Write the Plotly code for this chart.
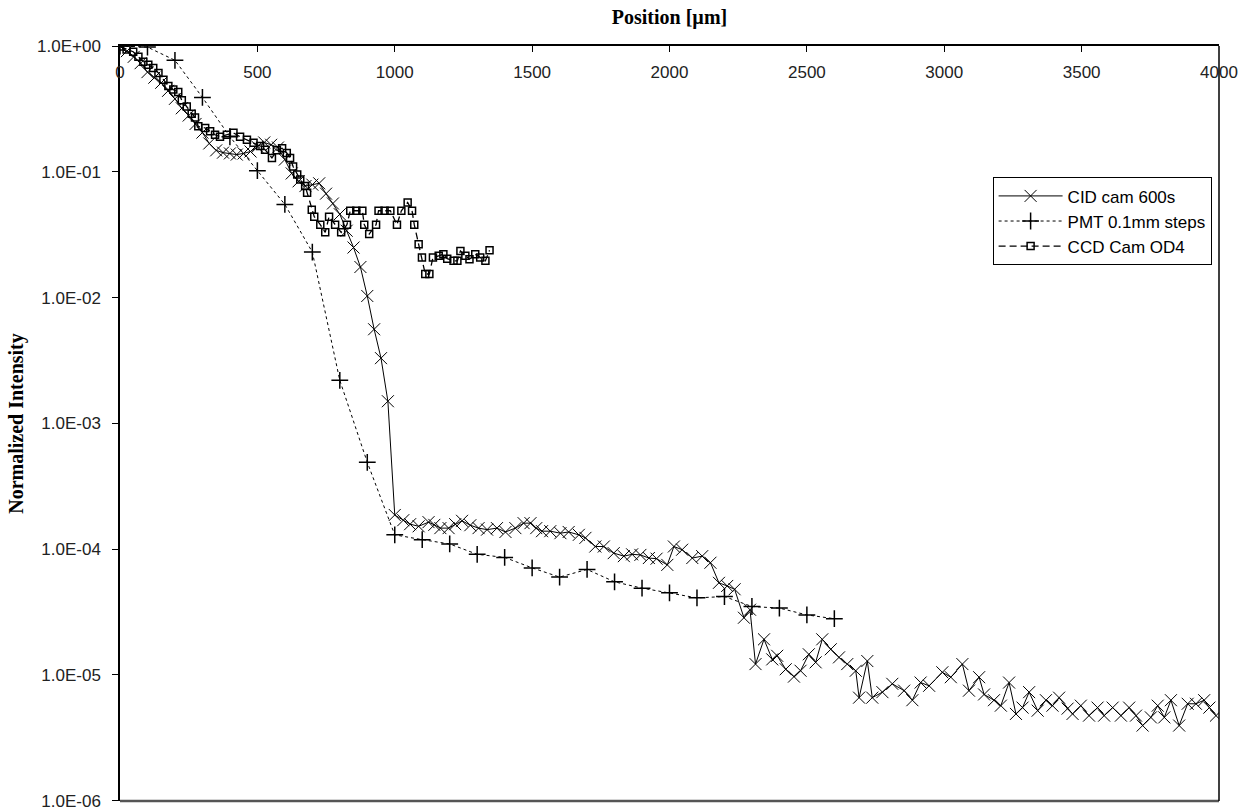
import plotly.graph_objects as go

# ---------------- data ----------------
cid_x = [0, 25, 50, 75, 100, 125, 150, 175, 200, 225, 250, 275, 300, 325, 350, 375, 400,
         425, 450, 475, 500, 525, 550, 575, 600, 625, 650, 675, 700, 725, 750, 775, 800,
         825, 850, 875, 900, 925, 950, 975, 1000,
         1031, 1056, 1087, 1123, 1144, 1166, 1196, 1220, 1245, 1275, 1305, 1336, 1372, 1403,
         1439, 1469, 1494, 1515, 1536, 1566, 1603, 1633, 1670, 1694, 1730, 1761, 1797, 1834,
         1864, 1894, 1925, 1953, 1992, 2016, 2046, 2083, 2119, 2149, 2180, 2210, 2237, 2271,
         2293, 2313, 2344, 2374, 2392, 2423, 2453, 2477, 2507, 2532, 2556, 2587, 2617, 2647,
         2678, 2690, 2720, 2738, 2775, 2811, 2854, 2884, 2914, 2945, 2993, 3024, 3066, 3090,
         3127, 3145, 3181, 3206, 3236, 3261, 3285, 3309, 3340, 3370, 3394, 3418, 3449, 3467,
         3497, 3527, 3558, 3582, 3613, 3643, 3673, 3698, 3722, 3752, 3777, 3801, 3825, 3855,
         3886, 3916, 3946, 3965, 3989]
cid_y = [1.0, 0.91, 0.82, 0.73, 0.62, 0.56, 0.51, 0.44, 0.38, 0.32, 0.28, 0.24, 0.205, 0.168,
         0.148, 0.142, 0.140, 0.137, 0.140, 0.145, 0.158, 0.171, 0.164, 0.156, 0.125, 0.097,
         0.084, 0.077, 0.079, 0.081, 0.067, 0.056, 0.046, 0.034, 0.025, 0.0175, 0.0103, 0.0056,
         0.0033, 0.0015, 1.87e-4,
         1.70e-4, 1.58e-4, 1.52e-4, 1.64e-4, 1.56e-4, 1.47e-4, 1.47e-4, 1.58e-4, 1.68e-4,
         1.55e-4, 1.47e-4, 1.43e-4, 1.47e-4, 1.37e-4, 1.47e-4, 1.61e-4, 1.61e-4, 1.47e-4,
         1.39e-4, 1.39e-4, 1.34e-4, 1.37e-4, 1.30e-4, 1.23e-4, 1.05e-4, 1.05e-4, 9.3e-5,
         8.8e-5, 9.1e-5, 9.0e-5, 8.5e-5, 8.4e-5, 7.5e-5, 1.05e-4, 9.9e-5, 8.5e-5, 8.8e-5,
         7.8e-5, 5.4e-5, 5.1e-5, 4.8e-5, 2.85e-5, 3.3e-5, 1.22e-5, 1.92e-5, 1.33e-5, 1.42e-5,
         1.11e-5, 9.7e-6, 1.08e-5, 1.46e-5, 1.26e-5, 1.92e-5, 1.60e-5, 1.38e-5, 1.22e-5,
         1.08e-5, 6.6e-6, 1.29e-5, 6.6e-6, 7.3e-6, 8.5e-6, 7.5e-6, 6.3e-6, 8.7e-6, 8.2e-6,
         1.05e-5, 9.6e-6, 1.22e-5, 7.5e-6, 9.6e-6, 7.0e-6, 6.3e-6, 5.7e-6, 8.7e-6, 4.9e-6,
         5.5e-6, 7.3e-6, 5.2e-6, 6.3e-6, 5.7e-6, 6.6e-6, 5.4e-6, 4.9e-6, 5.7e-6, 4.75e-6,
         5.5e-6, 4.75e-6, 5.5e-6, 4.75e-6, 5.5e-6, 4.75e-6, 3.96e-6, 4.6e-6, 5.7e-6, 4.6e-6,
         6.3e-6, 3.96e-6, 5.9e-6, 5.9e-6, 6.3e-6, 5.5e-6, 4.75e-6]

pmt_x = [0, 100, 200, 300, 400, 500, 600, 700, 800, 900, 1000, 1100, 1200, 1300, 1400,
         1500, 1600, 1700, 1800, 1900, 2000, 2100, 2200, 2300, 2400, 2500, 2600]
pmt_y = [1.0, 0.98, 0.77, 0.39, 0.19, 0.102, 0.055, 0.023, 0.0022, 4.9e-4, 1.3e-4, 1.19e-4,
         1.1e-4, 9.1e-5, 8.6e-5, 7.1e-5, 6.0e-5, 6.9e-5, 5.5e-5, 4.9e-5, 4.5e-5, 4.1e-5,
         4.2e-5, 3.5e-5, 3.4e-5, 3.0e-5, 2.8e-5]

ccd_x = [0, 24, 48, 67, 85, 103, 121, 140, 158, 176, 194, 212, 225, 243, 261, 273, 285, 310,
         328, 346, 364, 389, 413, 437, 462, 486, 510, 528, 553, 571, 590, 607, 619, 630, 645,
         656, 674, 681, 698, 707, 729, 747, 761, 783, 805, 826, 838, 860, 882, 889, 907, 932,
         941, 963, 984, 1008, 1024, 1047, 1063, 1071, 1087, 1099, 1111, 1126, 1139, 1160, 1177,
         1191, 1214, 1228, 1239, 1257, 1272, 1293, 1311, 1330, 1345]
ccd_y = [0.99, 0.94, 0.90, 0.82, 0.75, 0.71, 0.67, 0.61, 0.54, 0.48, 0.45, 0.43, 0.37, 0.33,
         0.29, 0.27, 0.23, 0.223, 0.21, 0.197, 0.19, 0.197, 0.204, 0.19, 0.18, 0.17, 0.16,
         0.15, 0.129, 0.148, 0.154, 0.141, 0.129, 0.110, 0.095, 0.087, 0.077, 0.068, 0.050,
         0.044, 0.038, 0.033, 0.044, 0.038, 0.033, 0.038, 0.049, 0.049, 0.049, 0.038, 0.032,
         0.038, 0.049, 0.049, 0.049, 0.038, 0.049, 0.057, 0.049, 0.038, 0.0266, 0.0208,
         0.0154, 0.0154, 0.0208, 0.0215, 0.0221, 0.0204, 0.0196, 0.0196, 0.0235, 0.0215,
         0.0202, 0.0221, 0.0208, 0.0196, 0.0238]

x_ticks = [0, 500, 1000, 1500, 2000, 2500, 3000, 3500, 4000]
y_ticks = [1, 1e-1, 1e-2, 1e-3, 1e-4, 1e-5, 1e-6]
y_ticktext = ["1.0E+00", "1.0E-01", "1.0E-02", "1.0E-03", "1.0E-04", "1.0E-05", "1.0E-06"]

# ---------------- figure ----------------
fig = go.Figure()
fig.add_trace(go.Scatter(
    x=cid_x, y=cid_y, name="CID cam 600s", mode="lines+markers",
    line=dict(color="black", width=1),
    marker=dict(symbol="x-thin-open", size=12, color="black", line=dict(color="black", width=1)),
))
fig.add_trace(go.Scatter(
    x=pmt_x, y=pmt_y, name="PMT 0.1mm steps", mode="lines+markers",
    line=dict(color="black", width=1, dash="3px,3px"),
    marker=dict(symbol="cross-thin-open", size=12, color="black", line=dict(color="black", width=1.5)),
))
fig.add_trace(go.Scatter(
    x=ccd_x, y=ccd_y, name="CCD Cam OD4", mode="lines+markers",
    line=dict(color="black", width=1.3, dash="7px,4px"),
    marker=dict(symbol="square-open", size=7, color="black", line=dict(color="black", width=1.5)),
))

tick_font = dict(family="Liberation Sans, Arial, sans-serif", size=17, color="#222")
title_font = dict(family="Liberation Serif, Times New Roman, serif", size=20, color="black")

fig.update_layout(
    width=1242, height=811,
    margin=dict(l=120, r=23, t=46, b=10, autoexpand=False),
    paper_bgcolor="white", plot_bgcolor="white",
    showlegend=True,
    legend=dict(
        x=0.794, y=0.826, xanchor="left", yanchor="top",
        bgcolor="white", bordercolor="black", borderwidth=1,
        font=dict(family="Liberation Sans, Arial, sans-serif", size=17, color="black"),
        tracegroupgap=0, itemwidth=64,
    ),
    xaxis=dict(
        side="top", range=[0, 4000], tickvals=x_ticks, automargin=False,
        ticks="inside", ticklen=6, tickcolor="black", tickwidth=1,
        ticklabelposition="inside", ticklabeloverflow="allow", ticklabelstandoff=15,
        showline=True, linecolor="black", linewidth=1.5,
        showgrid=False, zeroline=False, tickfont=tick_font,
        title=dict(text="<b>Position [µm]</b>", font=title_font, standoff=33),
    ),
    yaxis=dict(
        type="log", range=[-6.002, 0], tickvals=y_ticks, ticktext=y_ticktext, automargin=False,
        ticks="outside", ticklen=6, tickcolor="black", tickwidth=1,
        ticklabelstandoff=8, ticklabeloverflow="allow",
        showline=True, linecolor="black", linewidth=1.5,
        showgrid=False, zeroline=False, tickfont=tick_font,
        title=dict(text="<b>Normalized Intensity</b>", font=title_font, standoff=8),
    ),
    shapes=[
        dict(type="line", xref="paper", yref="paper", x0=0, x1=1, y0=0, y1=0,
             line=dict(color="#555", width=2.5)),
        dict(type="line", xref="paper", yref="paper", x0=1, x1=1, y0=0, y1=1,
             line=dict(color="black", width=1.5)),
    ],
)

fig.write_html("out.html")
